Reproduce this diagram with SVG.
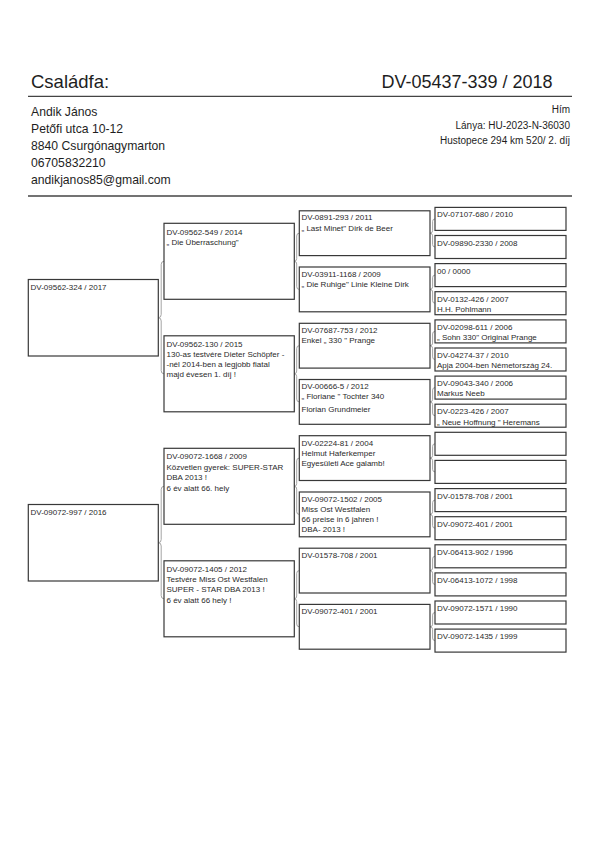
<svg xmlns="http://www.w3.org/2000/svg" width="600" height="848" viewBox="0 0 600 848">
<style>
text{font-family:"Liberation Sans",Arial,sans-serif;fill:#1e1e1e}
.title{font-size:18.5px}
.info{font-size:12.2px}
.inr{font-size:10px;text-anchor:end}
.t{font-size:8px;fill:#2a2a2a}
.box{fill:#fff;stroke:#383838;stroke-width:1.2}
.rule{stroke:#444;stroke-width:1.3}
.con{fill:none;stroke:#9a9a9a;stroke-width:0.9}
</style>
<rect width="600" height="848" fill="#fff"/>
<g id="header">
<text class="title" x="31" y="88.3">Családfa:</text>
<text class="title" x="381.5" y="88.3" style="font-size:18px">DV-05437-339 / 2018</text>
<line class="rule" x1="28" y1="96.3" x2="572" y2="96.3"/>
<text class="info" x="31" y="115.5">Andik János</text>
<text class="info" x="31" y="132.5">Petőfi utca 10-12</text>
<text class="info" x="31" y="149.5">8840 Csurgónagymarton</text>
<text class="info" x="31" y="166.5">06705832210</text>
<text class="info" x="31" y="183.5">andikjanos85@gmail.com</text>
<text class="inr" x="570" y="113">Hím</text>
<text class="inr" x="570" y="128.5">Lánya: HU-2023-N-36030</text>
<text class="inr" x="570" y="144">Hustopece 294 km 520/ 2. díj</text>
<line class="rule" x1="28" y1="196" x2="572" y2="196"/>
</g>
<g id="connectors">
<path class="con" d="M164,261.3 Q161.2,261.3 161.2,264.5 V314.5 Q161.2,317.75 158.3,317.75 Q161.2,317.75 161.2,321 V370.6 Q161.2,373.8 164,373.8"/>
<path class="con" d="M164,486.3 Q161.2,486.3 161.2,489.5 V539.5 Q161.2,542.75 158.3,542.75 Q161.2,542.75 161.2,546 V595.6 Q161.2,598.8 164,598.8"/>
<path class="con" d="M299.3,233.2 Q296.7,233.2 296.7,236 V258.5 Q296.7,261.3 294.3,261.3 Q296.7,261.3 296.7,264 V286.6 Q296.7,289.4 299.3,289.4"/>
<path class="con" d="M299.3,345.7 Q296.7,345.7 296.7,348.5 V371 Q296.7,373.8 294.3,373.8 Q296.7,373.8 296.7,376.6 V399.1 Q296.7,401.9 299.3,401.9"/>
<path class="con" d="M299.3,458.1 Q296.7,458.1 296.7,460.9 V483.5 Q296.7,486.3 294.3,486.3 Q296.7,486.3 296.7,489.1 V511.6 Q296.7,514.4 299.3,514.4"/>
<path class="con" d="M299.3,570.6 Q296.7,570.6 296.7,573.4 V596 Q296.7,598.8 294.3,598.8 Q296.7,598.8 296.7,601.6 V624 Q296.7,626.8 299.3,626.8"/>
<path class="con" d="M435,218.9 Q432.6,218.9 432.6,221.5 V230.6 Q432.6,233.2 430,233.2 Q432.6,233.2 432.6,235.8 V244.4 Q432.6,247 435,247"/>
<path class="con" d="M435,275.1 Q432.6,275.1 432.6,277.7 V286.8 Q432.6,289.4 430,289.4 Q432.6,289.4 432.6,292 V300.6 Q432.6,303.2 435,303.2"/>
<path class="con" d="M435,331.4 Q432.6,331.4 432.6,334 V343.1 Q432.6,345.7 430,345.7 Q432.6,345.7 432.6,348.3 V356.9 Q432.6,359.5 435,359.5"/>
<path class="con" d="M435,387.6 Q432.6,387.6 432.6,390.2 V399.3 Q432.6,401.9 430,401.9 Q432.6,401.9 432.6,404.5 V413.1 Q432.6,415.7 435,415.7"/>
<path class="con" d="M435,443.8 Q432.6,443.8 432.6,446.4 V455.5 Q432.6,458.1 430,458.1 Q432.6,458.1 432.6,460.7 V469.3 Q432.6,471.9 435,471.9"/>
<path class="con" d="M435,500.1 Q432.6,500.1 432.6,502.7 V511.8 Q432.6,514.4 430,514.4 Q432.6,514.4 432.6,517 V525.6 Q432.6,528.2 435,528.2"/>
<path class="con" d="M435,556.3 Q432.6,556.3 432.6,558.9 V568 Q432.6,570.6 430,570.6 Q432.6,570.6 432.6,573.2 V581.8 Q432.6,584.4 435,584.4"/>
<path class="con" d="M435,612.5 Q432.6,612.5 432.6,615.1 V624.2 Q432.6,626.8 430,626.8 Q432.6,626.8 432.6,629.4 V638 Q432.6,640.6 435,640.6"/>
</g>
<g id="n1a"><rect class="box" x="28.3" y="279.5" width="130" height="76.5"/><text class="t" x="30.5" y="290">DV-09562-324 / 2017</text></g>
<g id="n1b"><rect class="box" x="28.3" y="504.5" width="130" height="76.5"/><text class="t" x="30.5" y="515">DV-09072-997 / 2016</text></g>
<g id="n2a"><rect class="box" x="164" y="223.3" width="130.3" height="76"/><text class="t" x="166.5" y="234.6">DV-09562-549 / 2014</text><text class="t" x="166.5" y="244.8">„ Die Überraschung"</text></g>
<g id="n2b"><rect class="box" x="164" y="335.8" width="130.3" height="76"/><text class="t" x="166.5" y="347.1">DV-09562-130 / 2015</text><text class="t" x="166.5" y="357">130-as testvére Dieter Schöpfer -</text><text class="t" x="166.5" y="366.9">-nél 2014-ben a legjobb fiatal</text><text class="t" x="166.5" y="376.8">majd évesen 1. díj !</text></g>
<g id="n2c"><rect class="box" x="164" y="448.3" width="130.3" height="76"/><text class="t" x="166.5" y="459">DV-09072-1668 / 2009</text><text class="t" x="166.5" y="469.6">Közvetlen gyerek: SUPER-STAR</text><text class="t" x="166.5" y="480.2">DBA 2013 !</text><text class="t" x="166.5" y="490.8">6 év alatt 66. hely</text></g>
<g id="n2d"><rect class="box" x="164" y="560.8" width="130.3" height="76"/><text class="t" x="166.5" y="572">DV-09072-1405 / 2012</text><text class="t" x="166.5" y="582.2">Testvére Miss Ost Westfalen</text><text class="t" x="166.5" y="592.4">SUPER - STAR DBA 2013 !</text><text class="t" x="166.5" y="602.6">6 év alatt 66 hely !</text></g>
<g id="n3a"><rect class="box" x="299.3" y="210.8" width="130.7" height="44.8"/><text class="t" x="301.5" y="220.4">DV-0891-293 / 2011</text><text class="t" x="301.5" y="231">„ Last Minet" Dirk de Beer</text></g>
<g id="n3b"><rect class="box" x="299.3" y="267" width="130.7" height="44.8"/><text class="t" x="301.5" y="277">DV-03911-1168 / 2009</text><text class="t" x="301.5" y="287">„ Die Ruhige" Linie Kleine Dirk</text></g>
<g id="n3c"><rect class="box" x="299.3" y="323.3" width="130.7" height="44.8"/><text class="t" x="301.5" y="333.1">DV-07687-753 / 2012</text><text class="t" x="301.5" y="343.1">Enkel „ 330 " Prange</text></g>
<g id="n3d"><rect class="box" x="299.3" y="379.5" width="130.7" height="44.8"/><text class="t" x="301.5" y="389.4">DV-00666-5 / 2012</text><text class="t" x="301.5" y="399.4">„ Floriane " Tochter 340</text><text class="t" x="301.5" y="411.8">Florian Grundmeier</text></g>
<g id="n3e"><rect class="box" x="299.3" y="435.7" width="130.7" height="44.8"/><text class="t" x="301.5" y="445.9">DV-02224-81 / 2004</text><text class="t" x="301.5" y="455.9">Helmut Haferkemper</text><text class="t" x="301.5" y="466">Egyesületi Ace galamb!</text></g>
<g id="n3f"><rect class="box" x="299.3" y="492" width="130.7" height="44.8"/><text class="t" x="301.5" y="502">DV-09072-1502 / 2005</text><text class="t" x="301.5" y="512">Miss Ost Westfalen</text><text class="t" x="301.5" y="522">66 preise in 6 jahren !</text><text class="t" x="301.5" y="531.7">DBA- 2013 !</text></g>
<g id="n3g"><rect class="box" x="299.3" y="548.2" width="130.7" height="44.8"/><text class="t" x="301.5" y="558">DV-01578-708 / 2001</text></g>
<g id="n3h"><rect class="box" x="299.3" y="604.4" width="130.7" height="44.8"/><text class="t" x="301.5" y="614.2">DV-09072-401 / 2001</text></g>
<g id="n4a"><rect class="box" x="435" y="207.4" width="131" height="23"/><text class="t" x="437" y="217.4">DV-07107-680 / 2010</text></g>
<g id="n4b"><rect class="box" x="435" y="235.5" width="131" height="23"/><text class="t" x="437" y="245.5">DV-09890-2330 / 2008</text></g>
<g id="n4c"><rect class="box" x="435" y="263.6" width="131" height="23"/><text class="t" x="437" y="273.6">00 / 0000</text></g>
<g id="n4d"><rect class="box" x="435" y="291.7" width="131" height="23"/><text class="t" x="437" y="301.7">DV-0132-426 / 2007</text><text class="t" x="437" y="312">H.H. Pohlmann</text></g>
<g id="n4e"><rect class="box" x="435" y="319.9" width="131" height="23"/><text class="t" x="437" y="329.9">DV-02098-611 / 2006</text><text class="t" x="437" y="340.2">„ Sohn 330" Original Prange</text></g>
<g id="n4f"><rect class="box" x="435" y="348" width="131" height="23"/><text class="t" x="437" y="358">DV-04274-37 / 2010</text><text class="t" x="437" y="368.3">Apja 2004-ben Németország 24.</text></g>
<g id="n4g"><rect class="box" x="435" y="376.1" width="131" height="23"/><text class="t" x="437" y="386.1">DV-09043-340 / 2006</text><text class="t" x="437" y="396.4">Markus Neeb</text></g>
<g id="n4h"><rect class="box" x="435" y="404.2" width="131" height="23"/><text class="t" x="437" y="414.2">DV-0223-426 / 2007</text><text class="t" x="437" y="424.5">„ Neue Hoffnung " Heremans</text></g>
<g id="n4i"><rect class="box" x="435" y="432.3" width="131" height="23"/></g>
<g id="n4j"><rect class="box" x="435" y="460.4" width="131" height="23"/></g>
<g id="n4k"><rect class="box" x="435" y="488.6" width="131" height="23"/><text class="t" x="437" y="498.6">DV-01578-708 / 2001</text></g>
<g id="n4l"><rect class="box" x="435" y="516.7" width="131" height="23"/><text class="t" x="437" y="526.7">DV-09072-401 / 2001</text></g>
<g id="n4m"><rect class="box" x="435" y="544.8" width="131" height="23"/><text class="t" x="437" y="554.8">DV-06413-902 / 1996</text></g>
<g id="n4n"><rect class="box" x="435" y="572.9" width="131" height="23"/><text class="t" x="437" y="582.9">DV-06413-1072 / 1998</text></g>
<g id="n4o"><rect class="box" x="435" y="601" width="131" height="23"/><text class="t" x="437" y="611">DV-09072-1571 / 1990</text></g>
<g id="n4p"><rect class="box" x="435" y="629.1" width="131" height="23"/><text class="t" x="437" y="639.1">DV-09072-1435 / 1999</text></g>
</svg>
